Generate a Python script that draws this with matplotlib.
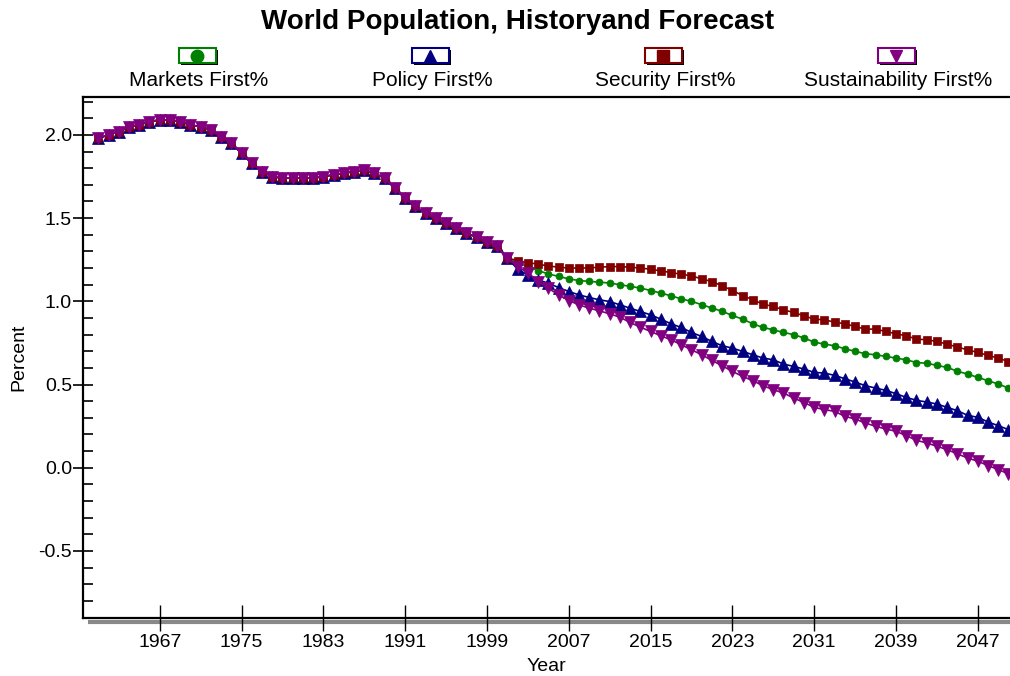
import numpy as np
import matplotlib as mpl
mpl.use('Agg')
import matplotlib.pyplot as plt
import matplotlib.transforms as mtrans
from matplotlib.patches import Rectangle
from matplotlib.lines import Line2D

mpl.rcParams['font.family'] = ['Liberation Sans', 'DejaVu Sans']

# annual growth of world population, percent
years = np.arange(1961, 2051)

history = [1.98, 2.00, 2.02, 2.05, 2.06, 2.08, 2.09, 2.09, 2.08, 2.06,
           2.05, 2.03, 1.99, 1.95, 1.89, 1.83, 1.78, 1.75, 1.74, 1.74,
           1.74, 1.74, 1.75, 1.76, 1.77, 1.78, 1.79, 1.77, 1.74, 1.68,
           1.62, 1.57, 1.53, 1.50, 1.47, 1.44, 1.41, 1.385, 1.355, 1.33,
           1.26]

markets = [1.23, 1.21, 1.185, 1.165, 1.15, 1.135, 1.125, 1.12, 1.115, 1.11,
           1.10, 1.09, 1.08, 1.065, 1.05, 1.033, 1.015, 1.00, 0.98, 0.96,
           0.94, 0.915, 0.893, 0.865, 0.843, 0.829, 0.813, 0.80, 0.78, 0.755,
           0.743, 0.733, 0.715, 0.70, 0.685, 0.679, 0.669, 0.659, 0.649, 0.632,
           0.628, 0.615, 0.603, 0.58, 0.563, 0.543, 0.523, 0.503, 0.479]

policy = [1.193, 1.159, 1.129, 1.109, 1.083, 1.059, 1.039, 1.023, 1.009, 0.999,
          0.979, 0.959, 0.939, 0.919, 0.893, 0.865, 0.843, 0.813, 0.789, 0.759,
          0.733, 0.719, 0.699, 0.679, 0.659, 0.649, 0.623, 0.609, 0.593, 0.573,
          0.569, 0.555, 0.535, 0.515, 0.493, 0.479, 0.465, 0.445, 0.423, 0.405,
          0.395, 0.383, 0.363, 0.343, 0.315, 0.303, 0.275, 0.253, 0.229]

security = [1.245, 1.233, 1.223, 1.213, 1.205, 1.20, 1.20, 1.201, 1.205, 1.209,
            1.209, 1.205, 1.20, 1.193, 1.183, 1.173, 1.163, 1.153, 1.135, 1.119,
            1.093, 1.065, 1.035, 1.009, 0.983, 0.969, 0.949, 0.933, 0.913, 0.893,
            0.889, 0.875, 0.865, 0.849, 0.833, 0.833, 0.819, 0.805, 0.793, 0.773,
            0.769, 0.759, 0.743, 0.725, 0.709, 0.693, 0.675, 0.659, 0.638]

sustain = [1.209, 1.173, 1.119, 1.079, 1.039, 1.005, 0.979, 0.959, 0.943, 0.925,
           0.905, 0.873, 0.845, 0.819, 0.793, 0.769, 0.739, 0.709, 0.679, 0.645,
           0.613, 0.579, 0.549, 0.523, 0.493, 0.469, 0.449, 0.419, 0.392, 0.363,
           0.349, 0.339, 0.309, 0.293, 0.269, 0.249, 0.233, 0.219, 0.193, 0.165,
           0.149, 0.129, 0.109, 0.083, 0.059, 0.039, 0.013, -0.011, -0.037]

names = ['Markets First%', 'Policy First%', 'Security First%', 'Sustainability First%']
colors = ['#008000', '#000080', '#800000', '#800080']
markers = ['o', '^', 's', 'v']
msizes = [5, 8, 6, 8]
x_ticks = np.arange(1967, 2048, 8)

W, H = 1010, 676
fig = plt.figure(figsize=(W / 100, H / 100), dpi=100)
ax = fig.add_axes([83 / W, 1 - 618 / H, (W - 83) / W, (618 - 97) / H])

for vals, col, mk, ms in zip([markets, policy, security, sustain], colors, markers, msizes):
    series = np.concatenate([history, vals])
    ax.plot(years, series, color=col, lw=1.2, marker=mk, ms=ms,
            mec=col, mfc=col, mew=0.5)

ax.set_xlim(1959.5, 2050.15)
ax.set_ylim(-0.903, 2.228)

ax.set_xticks(x_ticks)
ax.set_yticks(np.arange(-0.5, 2.01, 0.5))
ax.set_yticks(np.arange(-0.9, 2.25, 0.1), minor=True)
ax.yaxis.set_major_formatter(mpl.ticker.FormatStrFormatter('%.1f'))

ax.tick_params(axis='x', which='major', direction='inout', length=19, width=1,
               labelsize=14, pad=2)
ax.tick_params(axis='y', which='major', direction='inout', length=14, width=1.2,
               labelsize=14, pad=1)
ax.tick_params(axis='y', which='minor', direction='in', length=7.5, width=1.2)

for side in ['left', 'top', 'bottom']:
    ax.spines[side].set_linewidth(1.6)
ax.spines['right'].set_visible(False)

# grey shadow under the bottom axis line
shadow_tr = mtrans.offset_copy(ax.transAxes, fig=fig, x=0, y=-3.5, units='dots')
ax.plot([5 / (W - 83), 1], [0, 0], color='#888888', lw=3, transform=shadow_tr,
        clip_on=False, solid_capstyle='butt', zorder=1)

ax.set_xlabel('Year', fontsize=14, labelpad=5)
ax.set_ylabel('Percent', fontsize=14, labelpad=8)

fig.text(0.512, 1 - 22 / H, 'World Population, Historyand Forecast', ha='center',
         va='center', fontsize=20, fontweight='bold')

# legend: boxed marker above each label
box_x = [197, 430, 663, 896]
for bx, name, col, mk in zip(box_x, names, colors, markers):
    bw, bh = 37, 15
    x0, y0 = (bx - bw / 2) / W, 1 - (48 + bh) / H
    fig.patches.append(Rectangle((x0 + 2 / W, y0 - 2 / H), bw / W, bh / H,
                                 transform=fig.transFigure, facecolor='black',
                                 edgecolor='none', zorder=2))
    fig.patches.append(Rectangle((x0, y0), bw / W, bh / H, transform=fig.transFigure,
                                 facecolor='white', edgecolor=col, lw=1.5, zorder=3))
    fig.lines.append(Line2D([bx / W], [1 - 55.5 / H], transform=fig.transFigure,
                            marker=mk, ms=9, color=col, ls='', zorder=4))
    fig.text((bx + 2) / W, 1 - 81 / H, name, ha='center', va='center', fontsize=15)

fig.savefig('out.png', dpi=100)
